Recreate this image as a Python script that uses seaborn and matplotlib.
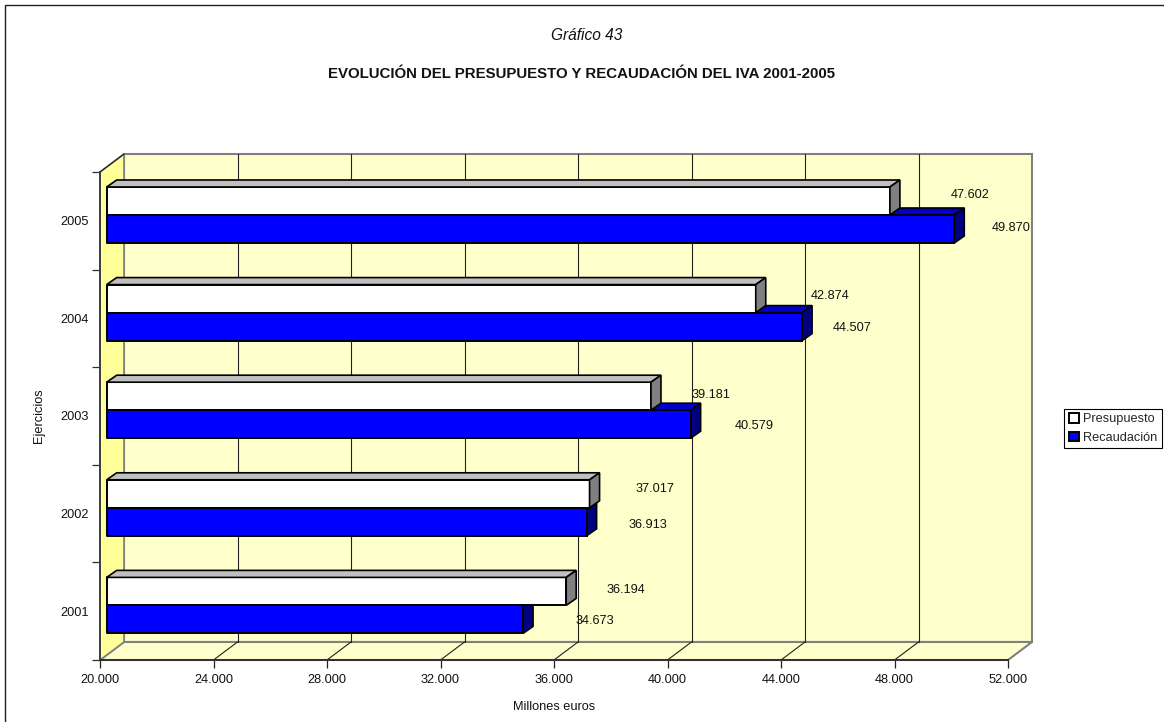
import pandas as pd
import seaborn as sns
import matplotlib.pyplot as plt
from matplotlib.lines import Line2D
from matplotlib.patches import Polygon

# chart data
years = ["2005", "2004", "2003", "2002", "2001"]
presupuesto = [47602, 42874, 39181, 37017, 36194]
recaudacion = [49870, 44507, 40579, 36913, 34673]
x_ticks = [20000, 24000, 28000, 32000, 36000, 40000, 44000, 48000, 52000]

# label offsets from bar ends, in pixels
pres_offsets = [(80, 6), (74, 2.5), (60, 1), (65, 4.5), (60, 1.5)]
rec_offsets = [(57, 1.5), (50, -1.5), (64, -1.5), (61, -3.5), (72, -1.5)]

W, H = 1164, 722


def fmt(v):
    return f"{v:,}".replace(",", ".")


df = pd.DataFrame({
    "year": years * 2,
    "value": presupuesto + recaudacion,
    "serie": ["Presupuesto"] * 5 + ["Recaudación"] * 5,
})

sns.set_theme(style="white")
plt.rcParams["font.family"] = ["Liberation Sans", "DejaVu Sans"]
plt.rcParams["font.size"] = 9

fig = plt.figure(figsize=(W / 100, H / 100), dpi=100, facecolor="white")

# page frame: only the left and top edges fall inside the picture
fig.add_artist(Line2D([5 / W, 5 / W, 1], [0, 1 - 5 / H, 1 - 5 / H], color="#202020", linewidth=1))

# front plane of the 3D box
ax = fig.add_axes([100 / W, 1 - 660 / H, 908 / W, 488 / H])
ax.set_xlim(x_ticks[0], x_ticks[-1])
ax.set_ylim(0, 5)
ax.patch.set_visible(False)
sns.despine(ax=ax, top=True, right=True)
ax.spines["left"].set_color("#303030")
ax.spines["bottom"].set_color("#303030")
ax.spines["bottom"].set_linewidth(1.4)
ax.spines["left"].set_linewidth(1.2)

# depth of the box in data units
dx = 24 * (x_ticks[-1] - x_ticks[0]) / 908
dy = 18 / 97.6
x0, x1 = x_ticks[0], x_ticks[-1]

ax.add_patch(Polygon([(x0 + dx, dy), (x1 + dx, dy), (x1 + dx, 5 + dy), (x0 + dx, 5 + dy)], closed=True,
                     facecolor="#FFFFCC", edgecolor="#808080", linewidth=1.5, clip_on=False, zorder=0.5))
ax.add_patch(Polygon([(x0, 0), (x1, 0), (x1 + dx, dy), (x0 + dx, dy)], closed=True,
                     facecolor="#FFFFCC", edgecolor="#808080", linewidth=1.5, clip_on=False, zorder=0.6))
ax.add_patch(Polygon([(x0, 0), (x0 + dx, dy), (x0 + dx, 5 + dy), (x0, 5)], closed=True,
                     facecolor="#FFFF99", edgecolor="#808080", linewidth=1.2, clip_on=False, zorder=0.6))
ax.plot([x0, x0 + dx], [5, 5 + dy], color="#202020", linewidth=0.9, clip_on=False, zorder=0.7)

# gridlines on the back wall and floor
for t in x_ticks[1:-1]:
    ax.plot([t + dx, t + dx], [dy, 5 + dy], color="#202020", linewidth=0.8, clip_on=False, zorder=0.7)
    ax.plot([t, t + dx], [0, dy], color="#202020", linewidth=0.8, clip_on=False, zorder=0.7)

ax.set_xticks(x_ticks)
ax.set_xticklabels([fmt(t) for t in x_ticks], fontsize=9.2, color="#111111")
ax.set_yticks(range(6))
ax.set_yticklabels([])
ax.set_yticks([i + 0.5 for i in range(5)], labels=years[::-1], minor=True, fontsize=9.2, color="#111111")
ax.tick_params(axis="x", which="major", bottom=True, length=6, width=0.9, color="#202020", pad=4)
ax.tick_params(axis="y", which="major", left=True, length=6, width=0.9, color="#303030")
ax.tick_params(axis="y", which="minor", left=False, length=0, pad=8)
ax.set_xlabel("Millones euros", fontsize=9.2, color="#111111", labelpad=11)
ax.set_ylabel("Ejercicios", fontsize=9.2, color="#111111", labelpad=11)

# bars sit in the middle of the box depth
bar_ax = fig.add_axes([106.7 / W, 1 - (660 - 5.8) / H, 908 / W, 488 / H])
sns.barplot(data=df, y="year", x="value", hue="serie", order=years,
            palette={"Presupuesto": "#FFFFFF", "Recaudación": "#0000FF"},
            width=0.574, saturation=1, edgecolor="black", linewidth=1.4, ax=bar_ax)
bar_ax.set_xlim(x0, x1)
bar_ax.set_ylim(4.5, -0.5)
bar_ax.patch.set_visible(False)
bar_ax.set_axis_off()

bar_dx = 10 * (x1 - x0) / 908
bar_dy = 7 / 97.6
colours = [("#C0C0C0", "#808080"), ("#0000CC", "#000080")]
offsets = [pres_offsets, rec_offsets]

for cont, (top_c, side_c), offs, z in zip(bar_ax.containers, colours, offsets, [3, 1.5]):
    for bar, off in zip(cont.patches, offs):
        bar.set_zorder(3)
        w = bar.get_width()
        y = bar.get_y()
        h = bar.get_height()
        bar_ax.add_patch(Polygon([(x0, y), (x0 + bar_dx, y - bar_dy), (w + bar_dx, y - bar_dy), (w, y)], closed=True,
                                 facecolor=top_c, edgecolor="black", linewidth=1.2, clip_on=False, zorder=z))
        bar_ax.add_patch(Polygon([(w, y), (w + bar_dx, y - bar_dy), (w + bar_dx, y + h - bar_dy), (w, y + h)], closed=True,
                                 facecolor=side_c, edgecolor="black", linewidth=1.2, clip_on=False, zorder=z))
        bar_ax.plot([x0, x0], [y, y + h], color="black", linewidth=1.4, clip_on=False, zorder=4)
        bar_ax.annotate(fmt(int(w)), (w, y + h / 2), xytext=off, textcoords="offset pixels",
                        ha="center", va="center", fontsize=9.2, color="#111111", zorder=5)

# legend
handles, labels = bar_ax.get_legend_handles_labels()
bar_ax.get_legend().remove()
leg = fig.legend(handles, labels, loc="center", bbox_to_anchor=(1113 / W, 1 - 428.5 / H), fontsize=9.2,
                 frameon=True, fancybox=False, edgecolor="black", framealpha=1,
                 handlelength=0.8, handleheight=0.8, handletextpad=0.3, labelspacing=0.5,
                 borderpad=0.35, borderaxespad=0)
leg.get_frame().set_linewidth(0.8)

fig.text(586.5 / W, 1 - 35 / H, "Gráfico 43", ha="center", va="center", style="italic", fontsize=11.2, color="#111111")
fig.text(581.5 / W, 1 - 74.5 / H, "EVOLUCIÓN DEL PRESUPUESTO Y RECAUDACIÓN DEL IVA 2001-2005", ha="center", va="center",
         fontweight="bold", fontsize=10.8, color="#111111")

fig.savefig("out.png", dpi=100)
